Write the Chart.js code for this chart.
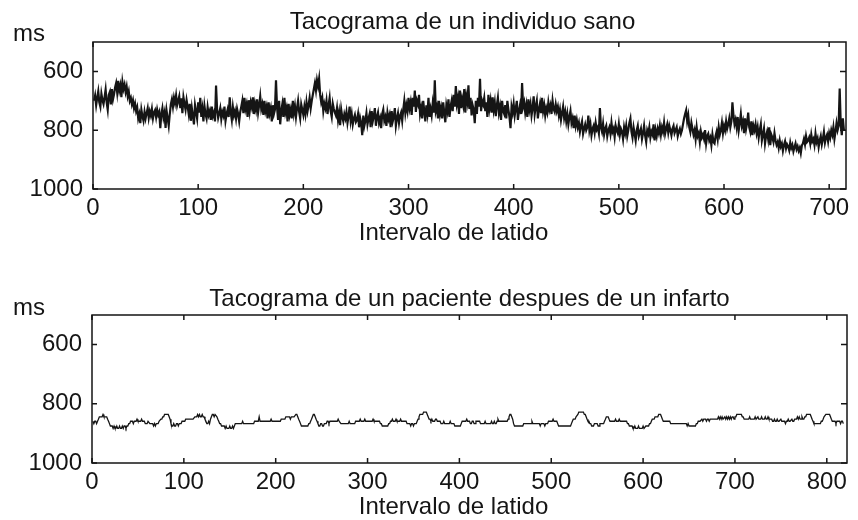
<!DOCTYPE html>
<html>
<head>
<meta charset="utf-8">
<script src="https://cdn.jsdelivr.net/npm/chart.js@4.4.1/dist/chart.umd.min.js"></script>
<style>
  body { margin: 0; background: #fff; }
  .wrap { position: absolute; left: 0; width: 858px; height: 260px; }
  #top { top: 0; }
  #bottom { top: 260px; }
</style>
</head>
<body>
<div class="wrap" id="top"><canvas id="sano" width="858" height="260"></canvas></div>
<div class="wrap" id="bottom"><canvas id="infarto" width="858" height="260"></canvas></div>
<script>
// RR intervals (ms) per beat
const healthyRR = [
  700,682,715,690,668,705,720,676,698,711,
  688,662,705,730,680,670,712,660,695,678,
  655,640,672,632,665,648,688,636,660,645,
  670,652,684,668,700,690,712,698,725,710,
  735,722,760,745,776,730,752,768,738,760,
  742,725,758,736,750,728,760,740,732,755,
  730,748,738,793,745,725,757,740,792,735,
  760,785,745,712,695,720,690,708,682,715,
  700,685,725,692,742,688,710,730,698,720,
  745,710,768,725,752,780,715,738,760,705,
  740,690,755,728,770,718,745,760,722,748,
  735,765,720,752,740,770,648,730,758,742,
  725,762,738,750,720,768,745,730,755,688,
  740,765,722,750,735,760,728,745,770,738,
  720,700,742,690,728,712,755,698,735,705,
  722,688,745,710,730,695,740,715,685,728,
  712,748,700,735,720,760,705,742,725,770,
  715,745,730,630,722,765,700,780,735,712,
  755,690,740,725,770,710,748,730,760,700,
  742,718,755,725,700,738,760,712,730,748,
  720,745,705,735,715,690,725,700,680,660,
  640,665,630,650,625,680,705,690,735,710,
  725,700,745,715,690,735,755,710,728,740,
  750,725,765,740,783,730,755,770,745,760,
  738,775,752,720,768,745,780,760,748,772,
  765,745,790,758,775,817,750,785,768,742,
  780,760,745,790,735,770,752,725,785,755,
  740,775,760,793,745,730,768,755,785,740,
  762,748,790,735,770,755,725,785,760,742,
  775,752,740,768,730,700,742,715,735,690,
  725,705,748,690,720,665,738,700,712,680,
  745,725,760,700,735,770,715,742,690,755,
  728,750,710,740,630,735,720,760,700,745,
  725,760,705,740,773,715,735,695,755,720,
  700,735,680,720,650,710,690,745,665,725,
  695,715,660,740,685,705,647,728,690,750,
  715,730,776,700,745,690,720,625,735,700,
  712,690,735,705,755,680,725,700,740,688,
  730,705,752,715,690,740,720,765,700,735,
  745,715,760,700,730,755,793,720,740,710,
  750,725,700,765,735,715,745,640,720,705,
  740,715,755,695,730,710,750,725,685,745,
  720,700,760,730,710,742,690,735,715,750,
  725,740,705,730,715,745,700,728,738,712,
  735,720,750,730,765,742,720,758,738,770,
  745,780,755,735,775,760,793,750,785,765,
  790,775,805,785,770,812,795,780,800,790,
  750,800,780,817,795,785,808,775,798,790,
  810,725,790,805,778,815,795,785,820,800,
  790,812,775,805,795,823,785,800,810,780,
  815,795,805,830,790,810,785,820,800,775,
  760,805,825,790,812,835,800,785,820,808,
  795,830,810,785,818,840,800,812,790,825,
  805,815,780,835,800,820,795,810,785,815,
  790,805,775,812,795,780,808,785,800,817,
  795,785,810,800,790,820,805,795,812,800,
  780,760,745,732,770,750,790,806,775,795,
  815,800,830,790,820,810,840,805,825,815,
  830,800,845,820,812,835,825,851,815,840,
  845,820,805,830,790,815,800,775,810,785,
  800,770,795,780,760,790,770,705,750,780,
  765,790,755,800,775,745,785,770,810,760,
  795,775,740,790,805,770,817,785,800,780,
  810,790,825,800,780,835,815,795,845,820,
  805,830,790,851,815,825,840,810,835,850,
  840,860,835,855,845,870,850,838,862,848,
  855,868,842,860,850,872,858,845,865,855,
  870,860,878,852,845,830,848,820,840,835,
  825,845,815,838,830,850,812,840,828,857,
  835,820,848,830,806,842,825,815,838,810,
  825,800,815,790,830,805,776,800,785,658,
  780,817,760,800
];

const infarctRR = [
  859,867,859,859,867,859,852,844,844,844,
  844,836,844,844,844,844,852,859,867,875,
  875,875,883,875,883,883,875,883,883,875,
  883,883,875,883,875,875,883,875,875,867,
  867,859,859,859,867,859,859,859,852,859,
  859,859,859,852,859,859,859,867,867,867,
  859,859,867,867,867,867,875,867,875,867,
  867,867,859,859,852,852,844,844,836,836,
  836,836,836,844,852,867,875,875,867,875,
  875,867,867,875,867,867,867,859,859,859,
  859,852,852,852,852,852,852,852,852,852,
  852,844,844,844,836,844,836,844,844,836,
  844,844,852,859,867,867,859,867,852,844,
  836,836,844,836,836,844,852,859,867,867,
  875,875,875,875,883,875,883,883,883,875,
  883,883,875,883,875,867,867,867,867,867,
  867,867,867,859,867,867,867,867,867,867,
  867,867,867,867,867,867,859,859,859,859,
  859,844,859,859,859,859,859,859,859,859,
  859,859,859,859,852,859,859,859,859,859,
  859,859,859,859,859,852,852,852,852,852,
  844,844,844,844,844,852,844,844,844,844,
  844,836,836,844,852,859,867,875,875,875,
  875,875,875,875,875,867,867,859,852,844,
  836,836,844,852,859,867,875,875,867,867,
  875,875,867,867,867,859,859,867,859,859,
  859,859,859,859,859,859,859,852,859,859,
  867,867,867,867,867,867,867,867,867,859,
  867,867,867,867,867,867,859,859,859,859,
  859,852,859,859,859,859,852,859,859,859,
  859,859,859,859,859,852,859,859,859,859,
  859,859,859,867,867,875,875,875,875,875,
  875,875,867,867,859,859,852,859,859,859,
  852,859,859,859,859,852,859,859,859,859,
  859,859,867,867,867,867,875,867,867,875,
  867,867,867,859,852,844,836,836,836,836,
  828,828,828,828,836,844,852,852,859,852,
  859,859,859,852,852,859,859,859,859,867,
  867,867,859,867,867,867,867,867,867,859,
  867,867,867,867,875,875,875,875,875,875,
  875,867,859,859,859,859,859,852,859,859,
  859,867,867,859,859,867,867,859,859,859,
  859,859,867,867,867,867,867,859,867,867,
  867,867,867,867,859,867,867,859,867,867,
  859,852,859,859,859,859,859,859,859,859,
  859,859,852,844,836,836,844,852,867,875,
  875,875,875,875,875,875,875,875,875,867,
  867,867,867,867,867,867,867,867,859,867,
  867,867,867,867,867,867,867,875,867,867,
  867,867,875,867,867,867,859,859,859,859,
  859,852,859,859,859,859,867,875,875,875,
  875,875,875,875,875,875,875,875,875,875,
  875,867,859,852,852,852,844,844,836,828,
  828,828,828,828,828,836,836,844,852,859,
  859,867,867,875,875,875,867,867,867,867,
  875,875,867,867,867,867,867,859,852,844,
  844,844,852,859,859,859,859,859,859,852,
  859,859,859,852,859,859,859,859,859,859,
  859,859,867,867,875,875,875,875,883,883,
  875,883,883,883,875,883,883,883,883,875,
  883,883,875,875,875,875,867,867,859,852,
  852,852,844,844,844,844,836,836,836,844,
  852,859,859,859,859,859,859,859,859,867,
  867,867,867,867,867,867,867,867,867,867,
  867,867,867,867,867,867,867,875,867,875,
  875,875,875,875,875,875,875,867,867,859,
  859,859,859,852,859,852,852,852,859,852,
  852,859,852,852,852,852,852,852,852,852,
  852,844,852,844,852,844,852,852,844,852,
  844,852,844,852,844,852,844,844,852,844,
  844,836,836,836,836,836,836,844,844,852,
  852,852,852,852,852,844,852,852,852,852,
  852,844,852,852,844,852,852,852,844,852,
  852,852,844,852,852,844,852,852,852,852,
  859,859,852,859,859,852,859,859,859,852,
  859,859,859,859,867,859,859,852,859,859,
  859,852,859,859,852,852,852,844,852,844,
  852,852,844,852,852,844,844,836,836,836,
  836,836,844,852,859,867,867,867,867,867,
  867,867,867,859,859,852,844,844,836,836,
  836,836,836,844,852,859,859,859,859,867,
  859,859,859,859,867,859,859,867
];

const yTicks = [600, 800, 1000];
const xTicksTop = [0, 100, 200, 300, 400, 500, 600, 700];
const xTicksBottom = [0, 100, 200, 300, 400, 500, 600, 700, 800];

const FONT = 'Liberation Sans, Arial, sans-serif';
const INK = '#151515';

// frame, inward ticks and texts, matlab style
const matlabAxes = {
    id: 'matlabAxes',
    afterDraw(chart, args, opts) {
        const { ctx, chartArea: a, scales } = chart;
        ctx.save();
        ctx.strokeStyle = INK;
        ctx.lineWidth = 1.5;
        ctx.strokeRect(a.left, a.top, a.right - a.left, a.bottom - a.top);
        ctx.beginPath();
        scales.x.ticks.forEach((t, i) => {
            const x = scales.x.getPixelForTick(i);
            ctx.moveTo(x, a.bottom); ctx.lineTo(x, a.bottom - 5);
            ctx.moveTo(x, a.top); ctx.lineTo(x, a.top + 5);
        });
        scales.y.ticks.forEach((t, i) => {
            const y = scales.y.getPixelForTick(i);
            ctx.moveTo(a.left, y); ctx.lineTo(a.left + 5, y);
            ctx.moveTo(a.right, y); ctx.lineTo(a.right - 6, y);
        });
        ctx.stroke();

        ctx.fillStyle = INK;
        ctx.font = '24px ' + FONT;
        ctx.textBaseline = 'middle';
        ctx.textAlign = 'center';
        const mid = (a.left + a.right) / 2;
        ctx.fillText(opts.title, mid + opts.titleShift, a.top - opts.titleGap);
        ctx.fillText('Intervalo de latido', mid - 16, a.bottom + 44);
        ctx.textAlign = 'left';
        ctx.fillText('ms', 13, a.top - opts.msGap);
        ctx.restore();
    }
};

function makeChart(id, values, xMax, xTicks, area, title) {
    const points = values.map((v, i) => ({ x: i + 1, y: v }));
    return new Chart(document.getElementById(id), {
        type: 'line',
        data: {
            datasets: [{
                data: points,
                borderColor: INK,
                borderWidth: area.lineWidth,
                pointRadius: 0,
                tension: 0,
                fill: false
            }]
        },
        options: {
            responsive: false,
            animation: false,
            parsing: false,
            layout: { padding: { top: area.top, right: area.right, bottom: area.bottom, left: 0 } },
            scales: {
                x: {
                    type: 'linear',
                    min: 0,
                    max: xMax,
                    afterBuildTicks: s => { s.ticks = xTicks.map(v => ({ value: v })); },
                    afterFit: s => { s.height = 30; },
                    grid: { display: false, drawTicks: false },
                    border: { display: false },
                    ticks: {
                        padding: 5, autoSkip: false, maxRotation: 0, color: INK,
                        font: { family: FONT, size: 24 },
                        callback: v => String(v)
                    }
                },
                y: {
                    reverse: true,
                    min: 500,
                    max: 1000,
                    afterBuildTicks: s => { s.ticks = yTicks.map(v => ({ value: v })); },
                    afterFit: s => { s.width = area.left; },
                    grid: { display: false, drawTicks: false },
                    border: { display: false },
                    ticks: {
                        padding: 10, color: INK,
                        font: { family: FONT, size: 24 },
                        callback: v => String(v)
                    }
                }
            },
            plugins: {
                legend: { display: false },
                tooltip: { enabled: false },
                matlabAxes: title
            }
        },
        plugins: [matlabAxes]
    });
}

makeChart('sano', healthyRR, 716, xTicksTop,
    { top: 42, right: 12, bottom: 41, left: 93, lineWidth: 2.2 },
    { title: 'Tacograma de un individuo sano', titleShift: -7, titleGap: 20, msGap: 8 });

makeChart('infarto', infarctRR, 822, xTicksBottom,
    { top: 55, right: 11, bottom: 27, left: 92, lineWidth: 1.3 },
    { title: 'Tacograma de un paciente despues de un infarto', titleShift: 0, titleGap: 16, msGap: 7 });
</script>
</body>
</html>
